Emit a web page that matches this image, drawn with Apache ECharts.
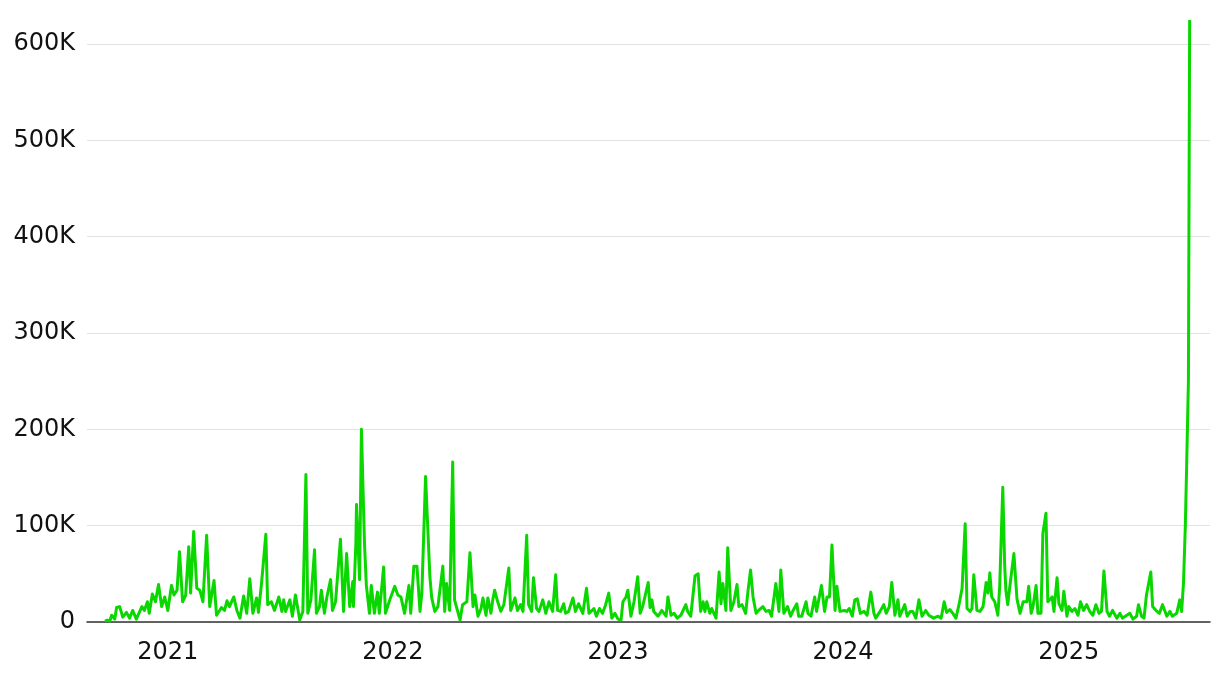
<!DOCTYPE html>
<html>
<head>
<meta charset="utf-8">
<script src="https://cdn.jsdelivr.net/npm/echarts@6/dist/echarts.min.js"></script>
<style>
html,body{margin:0;padding:0;background:#fff;}
#chart{width:1220px;height:682px;}
</style>
</head>
<body>
<div id="chart"></div>
<script>
// Day-of-year (0 = Jan 1) and values in thousands, per calendar year
const days2020 = [264,268,272,275,280,283,288,293,299,304,309,315,324,328,333,336,341,346,351,356,361];
const views2020 = [1,2,1,7,3,15,16,5,10,4,12,3,16,12,21,9,29,21,39,16,26];

const days2021 = [0,6,10,15,19,24,29,34,37,42,47,52,57,63,68,75,79,84,87,92,96,100,107,112,117,123,128,133,138,144,147,152,159,162,168,173,180,185,188,191,198,202,207,214,219,224,227,232,238,241,246,249,254,258,264,267,272,280,285,290,295,300,301,305,306,311,314,319,322,327,330,335,340,343,350,353,360];
const views2021 = [12,38,28,33,73,21,28,78,30,94,35,33,21,90,16,43,7,12,15,12,22,16,26,12,4,27,9,45,9,25,10,40,91,18,21,12,26,11,23,11,23,6,28,2,11,153,9,23,75,9,16,33,9,26,44,12,21,86,11,71,16,42,16,82,122,44,200,81,38,9,38,9,31,9,57,9,23];

const days2022 = [3,8,13,19,26,29,34,39,44,47,53,60,63,68,73,81,84,87,92,97,100,109,113,120,125,130,133,138,143,146,151,154,159,162,165,170,175,180,188,191,198,202,207,211,217,220,225,228,233,237,243,248,253,259,264,267,272,277,280,285,292,296,301,308,314,318,326,330,335,340,345,350,355,360];
const views2022 = [37,28,26,9,38,9,58,58,11,30,151,47,25,11,16,58,11,40,12,166,23,2,18,21,72,16,28,6,14,25,7,25,9,23,33,21,11,18,56,12,25,12,18,11,90,18,11,46,14,11,23,9,21,11,49,12,11,19,9,11,25,11,19,9,35,9,14,6,14,9,18,30,4,9];

const days2023 = [0,5,8,13,16,21,26,32,36,40,49,52,55,58,65,71,78,81,86,91,96,102,105,110,113,118,125,130,134,138,141,144,149,152,159,164,167,170,175,178,183,188,193,196,201,207,211,215,219,224,228,235,240,245,249,256,261,264,269,275,280,284,290,293,298,305,308,313,319,322,330,335,339,343,347,352,355,360];
const views2023 = [3,2,21,26,33,6,21,47,9,16,41,15,23,11,6,12,6,26,7,9,4,7,6,18,11,6,48,50,11,21,11,21,9,14,4,52,19,40,12,77,12,21,39,16,18,9,33,54,26,9,12,16,11,12,6,40,11,54,9,16,6,12,19,6,6,21,9,6,26,11,38,11,26,26,80,12,37,11];

const days2024 = [2,6,10,15,19,23,28,34,39,45,50,53,60,66,70,75,79,84,89,92,100,104,109,113,118,123,128,134,139,147,154,159,164,168,173,178,183,188,193,198,201,206,209,212,217,222,227,232,235,238,241,246,251,254,259,262,264,267,271,277,282,287,292,298,301,305,308,313,316,321,324,329,332,339,342,347,350,355,358,363];
const views2024 = [12,11,14,6,23,24,9,11,7,31,9,4,11,18,9,16,41,7,23,6,18,6,11,11,4,23,6,12,7,4,6,4,21,10,13,9,4,18,35,102,14,11,14,49,12,11,16,41,30,51,26,21,7,37,140,60,33,18,40,71,24,9,21,21,37,9,16,38,9,9,92,113,21,26,11,46,19,12,32,6];

const days2025 = [0,5,10,15,19,24,29,34,39,44,49,53,57,62,66,71,78,83,87,94,99,104,110,113,118,122,126,133,136,143,147,152,159,164,168,175,180,183,186,189,191,194,196];
const views2025 = [16,11,14,7,21,12,18,11,7,18,9,11,53,11,6,12,4,9,4,7,9,3,6,18,6,4,28,52,16,11,9,18,6,11,6,9,23,11,40,100,158,250,625];

const years = [
  [2020, days2020, views2020],
  [2021, days2021, views2021],
  [2022, days2022, views2022],
  [2023, days2023, views2023],
  [2024, days2024, views2024],
  [2025, days2025, views2025]
];
const seriesData = [];
years.forEach(([y, ds, vs]) => {
  ds.forEach((d, i) => {
    seriesData.push([new Date(y, 0, 1 + d).getTime(), vs[i] * 1000]);
  });
});

const chart = echarts.init(document.getElementById('chart'), null, {renderer: 'canvas'});
const FONT = 'DejaVu Sans';
chart.setOption({
  animation: false,
  backgroundColor: '#ffffff',
  grid: {left: 87, right: 10, top: 44, bottom: 60, containLabel: false},
  xAxis: {
    type: 'time',
    min: new Date(2020, 7, 23).getTime(),
    max: new Date(2025, 7, 18).getTime(),
    axisLine: {show: true, lineStyle: {color: '#333333', width: 1.5}},
    axisTick: {show: false},
    splitLine: {show: false},
    axisLabel: {
      formatter: function (v) {
        const d = new Date(v);
        return (d.getMonth() === 0 && d.getDate() === 1) ? String(d.getFullYear()) : '';
      },
      color: '#111111',
      fontFamily: FONT,
      fontSize: 24,
      margin: 19,
      hideOverlap: false,
      showMinLabel: false,
      showMaxLabel: false
    }
  },
  yAxis: {
    type: 'value',
    min: 0,
    max: 600000,
    interval: 100000,
    axisLine: {show: false},
    axisTick: {show: false},
    splitLine: {show: true, lineStyle: {color: '#e2e2e2', width: 1.2}},
    axisLabel: {
      formatter: v => v === 0 ? '0' : (v / 1000) + 'K',
      color: '#111111',
      fontFamily: FONT,
      fontSize: 24,
      margin: 12
    }
  },
  series: [{
    type: 'line',
    data: seriesData,
    showSymbol: false,
    clip: false,
    lineStyle: {color: '#0ad700', width: 3, join: 'round'},
    itemStyle: {color: '#0ad700'},
    z: 3
  }]
});
</script>
</body>
</html>
